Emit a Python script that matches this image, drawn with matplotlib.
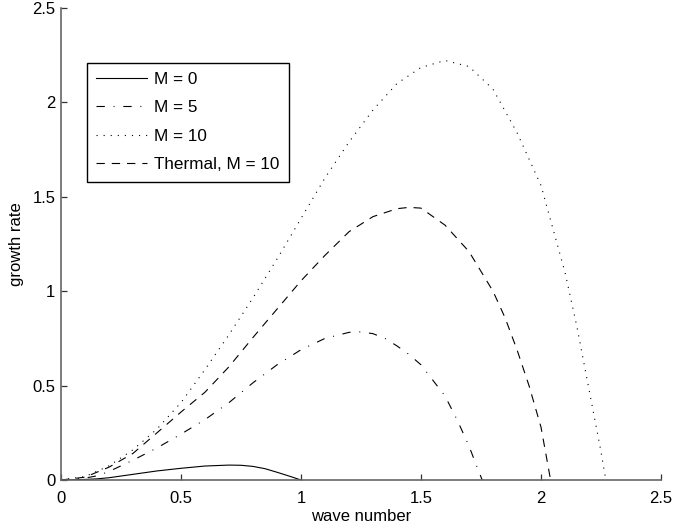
import matplotlib
matplotlib.use("Agg")
import matplotlib.pyplot as plt
from matplotlib.ticker import FormatStrFormatter

plt.rcParams["font.family"] = ["Liberation Sans", "DejaVu Sans"]
plt.rcParams["font.size"] = 12
plt.rcParams["lines.scale_dashes"] = False

# M = 0 (solid)
k_m0 = [0, 0.05, 0.1, 0.15, 0.2, 0.3, 0.4, 0.5, 0.6, 0.7, 0.75, 0.8, 0.85, 0.9, 0.95, 1.0]
s_m0 = [0, 0.001, 0.003, 0.006, 0.012, 0.03, 0.048, 0.062, 0.074, 0.079, 0.078, 0.072, 0.06, 0.041, 0.021, 0]

# M = 5 (dash-dot)
k_m5 = [0, 0.05, 0.1, 0.15, 0.2, 0.3, 0.4, 0.5, 0.6, 0.7, 0.8, 0.9, 1.0, 1.1, 1.2,
        1.25, 1.3, 1.35, 1.4, 1.45, 1.5, 1.6, 1.65, 1.7, 1.73, 1.755]
s_m5 = [0, 0.003, 0.01, 0.022, 0.045, 0.105, 0.17, 0.243, 0.32, 0.41, 0.515, 0.61, 0.69, 0.75, 0.782,
        0.785, 0.775, 0.75, 0.71, 0.665, 0.61, 0.445, 0.32, 0.18, 0.08, 0]

# M = 10 (dotted)
k_m10 = [0, 0.1, 0.2, 0.3, 0.4, 0.5, 0.6, 0.7, 0.8, 0.9, 1.0, 1.1, 1.2, 1.3, 1.4, 1.5,
         1.6, 1.7, 1.8, 1.9, 2.0, 2.05, 2.1, 2.15, 2.2, 2.25, 2.27]
s_m10 = [0, 0.018, 0.075, 0.16, 0.27, 0.41, 0.585, 0.77, 0.965, 1.17, 1.385, 1.6, 1.79, 1.96, 2.1, 2.185,
         2.222, 2.19, 2.07, 1.84, 1.56, 1.33, 1.10, 0.81, 0.48, 0.15, 0]

# Thermal, M = 10 (dashed)
k_th = [0, 0.1, 0.2, 0.3, 0.4, 0.5, 0.6, 0.7, 0.8, 0.9, 1.0, 1.1, 1.2, 1.3, 1.4, 1.45,
        1.5, 1.6, 1.7, 1.8, 1.85, 1.9, 1.95, 2.0, 2.04]
s_th = [0, 0.015, 0.068, 0.141, 0.25, 0.36, 0.465, 0.6, 0.755, 0.905, 1.055, 1.19, 1.315, 1.395, 1.437, 1.444,
        1.44, 1.35, 1.21, 1.0, 0.86, 0.69, 0.5, 0.28, 0]

ticks = [0, 0.5, 1, 1.5, 2, 2.5]

fig = plt.figure(figsize=(6.73, 5.29), dpi=100)
ax = fig.add_axes([61 / 673, 49 / 529, 600 / 673, 472 / 529])

ax.plot(k_m0, s_m0, color="black", lw=0.8, label="M = 0")
ax.plot(k_m5, s_m5, color="black", lw=0.8, dashes=(6, 6.3, 0.7, 6.3), label="M = 5")
ax.plot(k_m10, s_m10, color="black", lw=0.8, dashes=(0.8, 4.3), label="M = 10")
ax.plot(k_th, s_th, color="black", lw=0.8, dashes=(6, 5), label="Thermal, M = 10")

ax.set_xlim(0, 2.5)
ax.set_ylim(0, 2.5)
ax.set_xticks(ticks)
ax.set_yticks(ticks)
ax.xaxis.set_major_formatter(FormatStrFormatter("%g"))
ax.yaxis.set_major_formatter(FormatStrFormatter("%g"))
ax.tick_params(direction="in", length=4.3, width=0.9, color="0.2")
ax.tick_params(axis="x", pad=8)
ax.tick_params(axis="y", pad=4)

for side in ["top", "right"]:
    ax.spines[side].set_visible(False)
for side in ["left", "bottom"]:
    ax.spines[side].set_color("0.4")
    ax.spines[side].set_linewidth(1.2)

ax.set_xlabel("wave number", labelpad=2)
ax.set_ylabel("growth rate", labelpad=6)

leg = ax.legend(loc="upper left", bbox_to_anchor=(0.043, 0.884), borderaxespad=0,
                fancybox=False, framealpha=1, edgecolor="black", fontsize=12.3,
                handlelength=3.0, handletextpad=0.4, labelspacing=0.78, borderpad=0.55)
leg.get_frame().set_linewidth(1.0)

fig.savefig("out.png", dpi=100)
